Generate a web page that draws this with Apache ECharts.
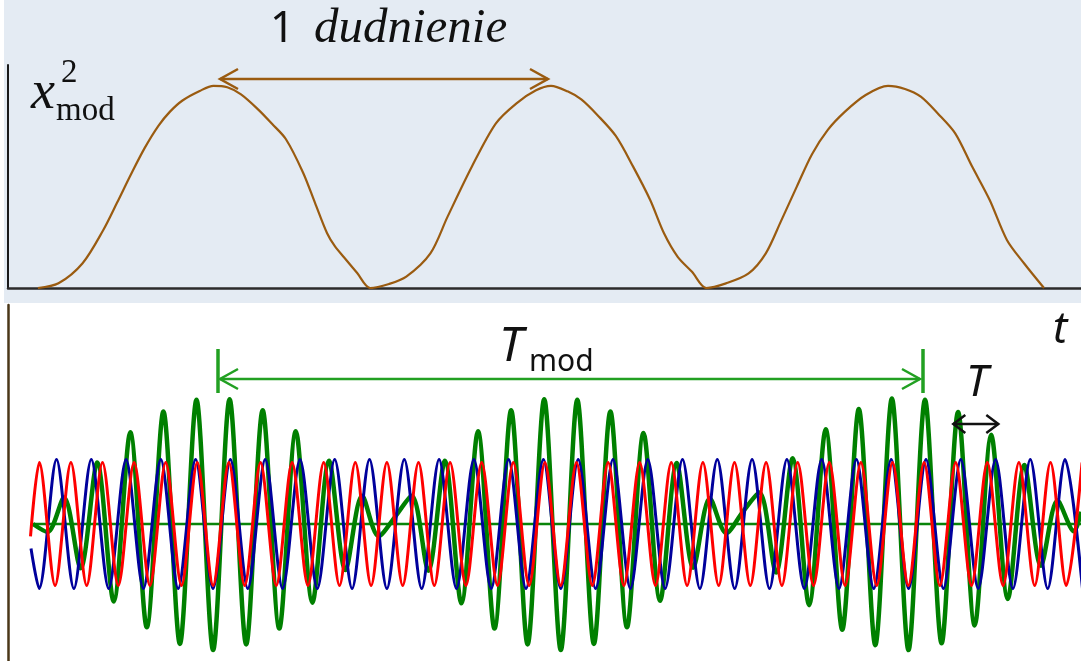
<!DOCTYPE html>
<html><head><meta charset="utf-8">
<script src="https://cdn.jsdelivr.net/npm/echarts@6/dist/echarts.min.js"></script>
<style>html,body{margin:0;padding:0;background:#fff}#c{width:1081px;height:661px}</style>
</head><body><div id="c"></div>
<script>
// ---------- DATA (time axis t, arbitrary units) ----------
// top panel: squared modulation x_mod^2
const xmodT=[29.9,50.5,74.6,95.3,109,122.9,136.6,150.4,162,174.5,191.7,205.5,219.3,233,250.3,264,277.8,295,307,319.1,327,336.4,349,362.2,
381,398.3,422.4,439.6,463.8,487.9,508.5,528,543,559.5,573.3,590,607.8,625,642.2,656,669.7,684,698.3,
718,740.6,757.8,773,788.8,804,819.8,837,857.7,880,897,912.8,930,947.2,964,981.7,998.9,1016,1036];
const xmodV=[0,0.023,0.122,0.286,0.42,0.56,0.69,0.8,0.87,0.925,0.972,0.997,0.99,0.955,0.88,0.81,0.735,0.57,0.42,0.27,0.205,0.149,0.075,0,
0.02,0.056,0.171,0.352,0.598,0.812,0.911,0.975,0.997,0.97,0.93,0.85,0.75,0.6,0.434,0.27,0.154,0.08,0,
0.023,0.072,0.171,0.33,0.5,0.66,0.78,0.87,0.952,0.997,0.982,0.944,0.86,0.763,0.6,0.434,0.237,0.122,0];

// bottom panel: red oscillation (extrema)
const redT=[22.5,31.3,47.1,62.9,78.7,94.5,110.3,126.1,141.9,157.7,173.5,189.3,205.1,220.9,236.7,252.5,268.3,284.1,299.9,315.7,331.5,
347.3,363.1,378.9,394.7,410.5,426.3,442.1,457.9,473.7,489.5,505.3,521.1,536.9,552.7,568.5,584.3,600.1,615.9,631.7,647.5,
663.3,679.1,694.9,710.7,726.5,742.3,758.1,773.9,789.7,805.5,821.3,837.1,852.9,868.7,884.5,900.3,916.1,931.9,947.7,963.5,
979.3,995.1,1010.9,1026.7,1042.5,1058.3,1074.1];
const redV=[-0.2,1,-1,1,-1,1,-1,1,-1,1,-1,1,-1,1,-1,1,-1,1,-1,1,-1,
1,-1,1,-1,1,-1,1,-1,1,-1,1,-1,1,-1,1,-1,1,-1,1,-1,
1,-1,1,-1,1,-1,1,-1,1,-1,1,-1,1,-1,1,-1,1,-1,1,-1,
1,-1,1,-1,1,-1,1];

// blue oscillation (extrema)
const blueT=[23,31.1,48.5,65.9,83.3,100.7,118.1,135.4,152.8,170.2,187.6,205.0,222.4,239.8,257.2,274.6,292.0,309.3,326.7,344.1,361.5,
378.9,396.3,413.7,431.1,448.5,465.9,483.2,500.6,518.0,535.4,552.8,570.2,587.6,605.0,622.4,639.8,657.1,674.5,691.9,709.3,
726.7,744.1,761.5,778.9,796.3,813.7,831.0,848.4,865.8,883.2,900.6,918.0,935.4,952.8,970.2,987.6,1004.9,1022.3,1039.7,1057.1,1074.5];
const blueV=[-0.4,-1.05,1.05,-1.05,1.05,-1.05,1.05,-1.05,1.05,-1.05,1.05,-1.05,1.05,-1.05,1.05,-1.05,1.05,-1.05,1.05,-1.05,1.05,
-1.05,1.05,-1.05,1.05,-1.05,1.05,-1.05,1.05,-1.05,1.05,-1.05,1.05,-1.05,1.05,-1.05,1.05,-1.05,1.05,-1.05,1.05,
-1.05,1.05,-1.05,1.05,-1.05,1.05,-1.05,1.05,-1.05,1.05,-1.05,1.05,-1.05,1.05,-1.05,1.05,-1.05,1.05,-1.05,1.05,-1.05];

// green beat signal (extrema)
const greenT=[25,39.5,56.0,72.6,89.2,105.7,122.3,138.8,155.4,171.9,188.5,205.1,221.6,238.2,254.7,271.3,287.8,304.4,321.0,337.5,354.1,
370.6,387.2,403.7,420.3,436.9,453.4,470.0,486.5,503.1,519.6,536.2,552.8,569.3,585.9,602.4,619.0,635.5,652.1,668.7,685.2,
701.8,718.3,734.9,751.4,768.0,784.6,801.1,817.7,834.2,850.8,867.3,883.9,900.5,917.0,933.6,950.1,966.7,983.2,999.8,1016.3,
1032.9,1049.5,1066.0,1073];
const greenV=[0,-0.13,0.43,-0.72,1.00,-1.26,1.49,-1.68,1.83,-1.95,2.02,-2.05,2.03,-1.96,1.85,-1.70,1.51,-1.28,1.03,-0.75,0.46,
-0.2,0.12,0.46,-0.76,1.03,-1.29,1.51,-1.70,1.85,-1.96,2.03,-2.05,2.02,-1.95,1.83,-1.68,1.48,-1.25,0.99,-0.71,
0.42,-0.15,0.2,0.51,-0.79,1.07,-1.32,1.54,-1.72,1.87,-1.97,2.04,-2.05,2.02,-1.94,1.82,-1.65,1.45,-1.22,0.96,
-0.68,0.38,-0.12,0.2];

const zeroT=[25,1073];
const zeroV=[0,0];

// annotations (data units)
const beatArrow={t0:212,t1:540,v:1.031};
const tmodArrow={t0:212,t1:912,v:2.358,tick0:210,tick1:915,vLo:2.13,vHi:2.846};
const periodArrow={t0:945.3,t1:990.3,v:1.626};

// ---------- CHART ----------
const chart=echarts.init(document.getElementById('c'),null,{renderer:'canvas'});
const zip=(a,b)=>a.map((t,i)=>[t,b[i]]);
const T_MAX=1073;
const hidden={axisTick:{show:false},axisLabel:{show:false},splitLine:{show:false}};
chart.setOption({
  animation:false,
  backgroundColor:'transparent',
  grid:[{left:8,right:0,top:65,height:223},{left:8,right:0,top:305,bottom:0}],
  xAxis:[
    Object.assign({type:'value',gridIndex:0,min:0,max:T_MAX,axisLine:{show:true,onZero:false,lineStyle:{color:'#2b2b2b',width:2.5}}},hidden),
    Object.assign({type:'value',gridIndex:1,min:0,max:T_MAX,axisLine:{show:false}},hidden)
  ],
  yAxis:[
    Object.assign({type:'value',gridIndex:0,min:0,max:1.1,axisLine:{show:true,onZero:false,lineStyle:{color:'#1a1a1a',width:2}}},hidden),
    Object.assign({type:'value',gridIndex:1,min:-2.228,max:3.561,axisLine:{show:true,onZero:false,lineStyle:{color:'#4a3718',width:2.5}}},hidden)
  ],
  series:[
    {type:'line',xAxisIndex:0,yAxisIndex:0,data:zip(xmodT,xmodV),smooth:0.3,showSymbol:false,lineStyle:{color:'#9a5b10',width:2.2}},
    {type:'line',xAxisIndex:1,yAxisIndex:1,data:zip(zeroT,zeroV),showSymbol:false,lineStyle:{color:'#0a840a',width:2.5}},
    {type:'line',xAxisIndex:1,yAxisIndex:1,data:zip(greenT,greenV),smooth:0.3,showSymbol:false,lineStyle:{color:'#008000',width:4.5}},
    {type:'line',xAxisIndex:1,yAxisIndex:1,data:zip(blueT,blueV),smooth:0.3,showSymbol:false,lineStyle:{color:'#00009c',width:3}},
    {type:'line',xAxisIndex:1,yAxisIndex:1,data:zip(redT,redV),smooth:0.3,showSymbol:false,lineStyle:{color:'#ff0000',width:3}}
  ]
});

function px(gi,t,v){return chart.convertToPixel({gridIndex:gi},[t,v]);}
function hArrow(gi,a,color,w,dx,dy){
  const p0=px(gi,a.t0,a.v),p1=px(gi,a.t1,a.v);
  const st={stroke:color,lineWidth:w,fill:null,lineJoin:'miter',lineCap:'butt'};
  return [
    {type:'line',shape:{x1:p0[0],y1:p0[1],x2:p1[0],y2:p1[1]},style:st,silent:true,z:10},
    {type:'polyline',shape:{points:[[p0[0]+dx,p0[1]-dy],[p0[0],p0[1]],[p0[0]+dx,p0[1]+dy]]},style:st,silent:true,z:10},
    {type:'polyline',shape:{points:[[p1[0]-dx,p1[1]-dy],[p1[0],p1[1]],[p1[0]-dx,p1[1]+dy]]},style:st,silent:true,z:10}
  ];
}
function txt(s,x,y,font){
  return {type:'text',silent:true,z:20,style:{text:s,x:x,y:y,font:font,fill:'#111',textAlign:'left',textVerticalAlign:'middle',align:'left',verticalAlign:'middle'}};
}
const g=[];
g.push({type:'rect',shape:{x:4,y:0,width:1077,height:303},style:{fill:'#e4ebf3'},z:-10,silent:true});
g.push(...hArrow(0,beatArrow,'#9a5b10',2.5,18,10));
g.push(...hArrow(1,tmodArrow,'#22a022',2.5,18,10));
const k0a=px(1,tmodArrow.tick0,tmodArrow.vLo),k0b=px(1,tmodArrow.tick0,tmodArrow.vHi);
const k1a=px(1,tmodArrow.tick1,tmodArrow.vLo),k1b=px(1,tmodArrow.tick1,tmodArrow.vHi);
g.push({type:'line',shape:{x1:k0a[0],y1:k0a[1],x2:k0b[0],y2:k0b[1]},style:{stroke:'#22a022',lineWidth:3.5},silent:true,z:10});
g.push({type:'line',shape:{x1:k1a[0],y1:k1a[1],x2:k1b[0],y2:k1b[1]},style:{stroke:'#22a022',lineWidth:3.5},silent:true,z:10});
g.push(...hArrow(1,periodArrow,'#111',2.5,12,9));
// texts
g.push(txt('1',270,30,'43px "Noto Sans"'));
g.push(txt('dudnienie',314,29,'italic 49px "Liberation Serif"'));
g.push(txt('x',31,94,'italic 54px "Liberation Serif"'));
g.push(txt('2',61,73,'33px "Liberation Serif"'));
g.push(txt('mod',56,111,'33px "Liberation Serif"'));
g.push(txt('T',499,347,'italic 48px "Noto Sans"'));
g.push(txt('mod',529,362,'30px "Noto Sans"'));
g.push(txt('T',966,383,'italic 44px "Noto Sans"'));
g.push(txt('t',1053,331,'italic 43px "Noto Sans"'));
chart.setOption({graphic:{elements:g}});
</script></body></html>
